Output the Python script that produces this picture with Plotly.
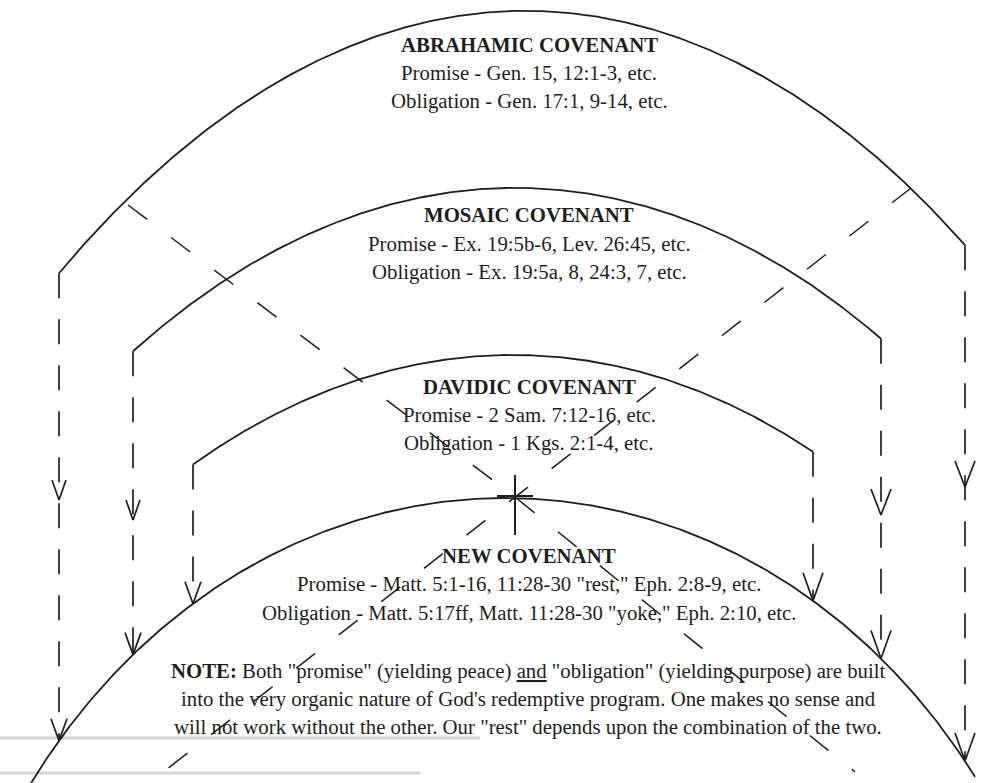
import numpy as np
import plotly.graph_objects as go

# ---------------- data ----------------
covenant_titles = ["ABRAHAMIC COVENANT", "MOSAIC COVENANT", "DAVIDIC COVENANT", "NEW COVENANT"]
promise_refs = [
    "Promise - Gen. 15, 12:1-3, etc.",
    "Promise - Ex. 19:5b-6, Lev. 26:45, etc.",
    "Promise - 2 Sam. 7:12-16, etc.",
    "Promise - Matt. 5:1-16, 11:28-30 \"rest,\" Eph. 2:8-9, etc.",
]
obligation_refs = [
    "Obligation - Gen. 17:1, 9-14, etc.",
    "Obligation - Ex. 19:5a, 8, 24:3, 7, etc.",
    "Obligation - 1 Kgs. 2:1-4, etc.",
    "Obligation - Matt. 5:17ff, Matt. 11:28-30 \"yoke,\" Eph. 2:10, etc.",
]
note_lines = [
    "<b>NOTE:</b> Both \"promise\" (yielding peace) <u>and</u> \"obligation\" (yielding purpose) are built",
    "into the very organic nature of God's redemptive program. One makes no sense and",
    "will not work without the other. Our \"rest\" depends upon the combination of the two.",
]

# arc geometry (elliptic arcs): centre x, apex y, semi-axes, tilt, x-extent
arc_cx = [512, 505, 505, 505]
arc_apex = [11, 188, 355, 498]
arc_a = [1000, 900, 800, 580]
arc_b = [2288, 1737, 1320, 673]
arc_tilt = [-0.031, -0.0214, -0.016, 0.0]
arc_xl = [59, 133, 193, 30]
arc_xr = [965, 881, 813, 975]

# text block centres (x, y of title) and line offsets
text_cx = [529, 529, 529, 529]
text_y0 = [44, 214, 386, 555]
line_gap = [28.5, 29, 28.5, 29]
note_y = [671, 699, 727]
note_cx = 528

# mid-line arrow tips on the vertical dashed lines (left, right) per outer arc
mid_arrows_left = [[500], [520], []]
mid_arrows_right = [[487], [515], []]

# diagonal dashed lines (polyline vertices)
diag1_x = [128, 515, 855]
diag1_y = [205, 497, 772]
diag2_x = [911, 515, 153]
diag2_y = [188, 497, 780]

INK = "#1e1e1e"
FONT = "Liberation Serif"
FS = 20.8


def arc_y(x, i):
    dx = np.asarray(x, dtype=float) - arc_cx[i]
    return arc_apex[i] + arc_b[i] * (1 - np.sqrt(1 - (dx / arc_a[i]) ** 2)) + arc_tilt[i] * dx


fig = go.Figure()

# faint scan streaks
fig.add_trace(go.Scatter(x=[0, 480, None, 0, 420], y=[738, 738, None, 773, 773], mode="lines",
                         line=dict(color="#d4d4d4", width=3), hoverinfo="skip", showlegend=False))

# arcs
for i in range(4):
    xs = np.linspace(arc_xl[i], arc_xr[i], 400)
    fig.add_trace(go.Scatter(x=xs, y=arc_y(xs, i), mode="lines",
                             line=dict(color=INK, width=1.8), hoverinfo="skip", showlegend=False))

# vertical dashed lines + arrows
arr_x, arr_y = [], []
def chevron(x, tip, hw=8, h=20):
    arr_x.extend([x - hw, x, x + hw, None])
    arr_y.extend([tip - h, tip, tip - h, None])

for i in range(3):
    for side, xv, mids in (("l", arc_xl[i], mid_arrows_left[i]), ("r", arc_xr[i], mid_arrows_right[i])):
        top = float(arc_y(xv, i))
        bottom = float(arc_y(xv, 3))
        fig.add_trace(go.Scatter(x=[xv, xv], y=[top, bottom], mode="lines",
                                 line=dict(color=INK, width=1.7, dash="25px,21px"),
                                 hoverinfo="skip", showlegend=False))
        big = side == "r"
        for t in mids:
            chevron(xv, t, hw=10 if big else 7, h=26 if big else 20)
        chevron(xv, bottom, hw=10 if big else 8, h=28 if big else 22)

fig.add_trace(go.Scatter(x=arr_x, y=arr_y, mode="lines", line=dict(color=INK, width=1.7),
                         hoverinfo="skip", showlegend=False))

# diagonal dashed lines
for dx_, dy_ in ((diag1_x, diag1_y), (diag2_x, diag2_y)):
    fig.add_trace(go.Scatter(x=dx_, y=dy_, mode="lines",
                             line=dict(color=INK, width=1.5, dash="24px,30px"),
                             hoverinfo="skip", showlegend=False))

# central cross mark
cx0, cy0 = diag1_x[1], diag1_y[1]
fig.add_trace(go.Scatter(x=[cx0, cx0, None, cx0 - 18, cx0 + 18],
                         y=[cy0 - 22, cy0 + 38, None, cy0 - 1, cy0 - 1],
                         mode="lines", line=dict(color=INK, width=2),
                         hoverinfo="skip", showlegend=False))

# texts
for i in range(4):
    fig.add_annotation(x=text_cx[i], y=text_y0[i], text="<b>" + covenant_titles[i] + "</b>",
                       showarrow=False, font=dict(family=FONT, size=FS, color=INK))
    fig.add_annotation(x=text_cx[i], y=text_y0[i] + line_gap[i], text=promise_refs[i],
                       showarrow=False, font=dict(family=FONT, size=FS, color=INK))
    fig.add_annotation(x=text_cx[i], y=text_y0[i] + 2 * line_gap[i], text=obligation_refs[i],
                       showarrow=False, font=dict(family=FONT, size=FS, color=INK))
for j, ln in enumerate(note_lines):
    fig.add_annotation(x=note_cx, y=note_y[j], text=ln, showarrow=False,
                       font=dict(family=FONT, size=FS, color=INK))

fig.update_layout(
    width=993, height=783,
    margin=dict(l=0, r=0, t=0, b=0),
    paper_bgcolor="white", plot_bgcolor="white",
    xaxis=dict(range=[0, 993], visible=False, fixedrange=True),
    yaxis=dict(range=[783, 0], visible=False, fixedrange=True),
    showlegend=False,
)
fig.write_html("out.html", config={"displayModeBar": False},
               post_script="document.body.style.margin='0';document.body.style.overflow='hidden';")
